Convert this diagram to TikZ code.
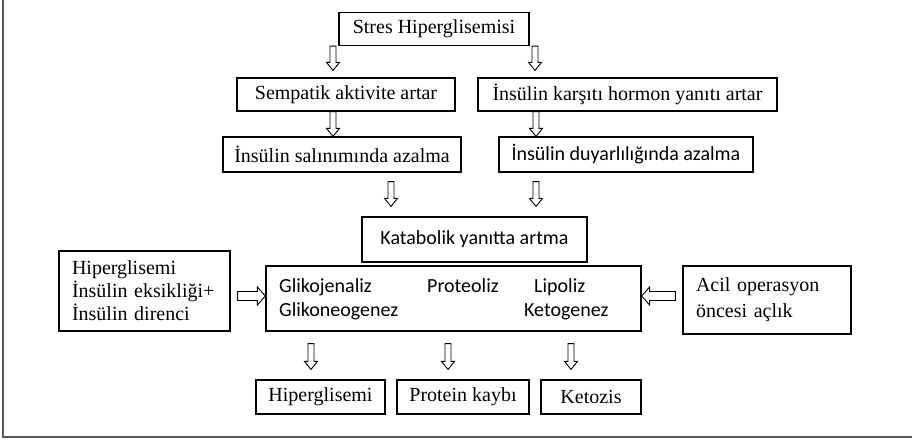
\documentclass[tikz,border=0pt]{standalone}
\usepackage{fontspec}
\setmainfont{Liberation Serif}
\newfontfamily\calibri{Carlito}
\usetikzlibrary{calc}

% hollow block arrow: start, tip, half shaft width, half head width
\newcommand{\hollowarrow}[4]{%
  \draw[line width=0.9pt] let \p1=#1, \p2=#2, \p3=($(\p2)!8pt!(\p1)$) in
    ($(\p1)!#3!90:(\p2)$) -- ($(\p3)!#3!90:(\p2)$) -- ($(\p3)!#4!90:(\p2)$) -- (\p2)
    -- ($(\p3)!#4!-90:(\p2)$) -- ($(\p3)!#3!-90:(\p2)$) -- ($(\p1)!#3!-90:(\p2)$) -- cycle;}

\begin{document}
\begin{tikzpicture}[x=1pt,y=-1pt,
    box/.style={draw,line width=1.2pt,inner sep=0pt,font=\fontsize{20}{23}\selectfont},
    sans/.style={font=\calibri\fontsize{20}{24}\selectfont}]
    \useasboundingbox (0,0) rectangle (912,440);
    \draw[line width=1.8pt,black!65] (3,0) -- (3,437) -- (912,437);

    \node[box,minimum width=190pt,minimum height=33pt] (stres) at (434,29) {Stres Hiperglisemisi};
    \node[box,minimum width=218pt,minimum height=33pt] (semp) at (346,94.5) {Sempatik aktivite artar};
    \node[box,minimum width=299pt,minimum height=33pt] (kars) at (627.5,94.5) {İnsülin karşıtı hormon yanıtı artar};
    \node[box,minimum width=238pt,minimum height=35pt] (salin) at (342,154.5) {İnsülin salınımında azalma};
    \node[box,sans,minimum width=254pt,minimum height=35pt] (duyar) at (626,154.5) {İnsülin duyarlılığında azalma};
    \node[box,sans,minimum width=225pt,minimum height=45pt] (katab) at (474.5,239.5) {Katabolik yanıtta artma};

    \node[box,text width=145pt,inner xsep=13pt,align=left,minimum height=80pt] (hyp) at (144.5,291)
        {Hiperglisemi\\İnsülin eksikliği+\\İnsülin direnci};
    \node[box,minimum width=375pt,minimum height=65pt] (proc) at (453.5,298.5) {};
    \node[box,text width=142pt,inner xsep=13pt,align=left,minimum height=68pt,
        font=\fontsize{20}{26}\selectfont] (acil) at (767,300) {Acil operasyon\\öncesi açlık};

    \node[sans,anchor=base west,inner sep=0pt] (glkj) at (279,292) {Glikojenaliz};
    \node[sans,anchor=base west,inner sep=0pt] (glkn) at (279,316) {Glikoneogenez};
    \node[sans,anchor=base west,inner sep=0pt] (prot) at (427,292) {Proteoliz};
    \node[sans,anchor=base west,inner sep=0pt] (lipo) at (534,292) {Lipoliz};
    \node[sans,anchor=base west,inner sep=0pt] (keto) at (524,316) {Ketogenez};

    \node[box,minimum width=129pt,minimum height=34pt] (res1) at (320.5,397) {Hiperglisemi};
    \node[box,minimum width=132pt,minimum height=34pt] (res2) at (463,397) {Protein kaybı};
    \node[box,minimum width=100pt,minimum height=34pt] (res3) at (591,397) {Ketozis};

    \hollowarrow{(333,0 |- stres.south)}{($(333,0 |- semp.north)+(0,-7)$)}{3pt}{6.5pt}
    \hollowarrow{(535,0 |- stres.south)}{($(535,0 |- kars.north)+(0,-7)$)}{3pt}{6.5pt}
    \hollowarrow{(333,0 |- semp.south)}{(333,0 |- salin.north)}{3pt}{6.5pt}
    \hollowarrow{(536,0 |- kars.south)}{(536,0 |- duyar.north)}{3pt}{6.5pt}
    \hollowarrow{($(391,0 |- salin.south)+(0,9)$)}{($(391,0 |- katab.north)+(0,-10)$)}{3pt}{6.5pt}
    \hollowarrow{($(536,0 |- duyar.south)+(0,9)$)}{($(536,0 |- katab.north)+(0,-10)$)}{3pt}{6.5pt}
    \hollowarrow{($(hyp.east)+(7,5)$)}{($(proc.west)+(0,-2.5)$)}{4.5pt}{9pt}
    \hollowarrow{($(acil.west)+(-7,-4)$)}{($(proc.east)+(0,-2.5)$)}{4.5pt}{9pt}
    \hollowarrow{($(311,0 |- proc.south)+(0,12)$)}{($(311,0 |- res1.north)+(0,-10)$)}{3pt}{6.5pt}
    \hollowarrow{($(448,0 |- proc.south)+(0,12)$)}{($(448,0 |- res2.north)+(0,-10)$)}{3pt}{6.5pt}
    \hollowarrow{($(571,0 |- proc.south)+(0,12)$)}{($(571,0 |- res3.north)+(0,-10)$)}{3pt}{6.5pt}
\end{tikzpicture}
\end{document}
